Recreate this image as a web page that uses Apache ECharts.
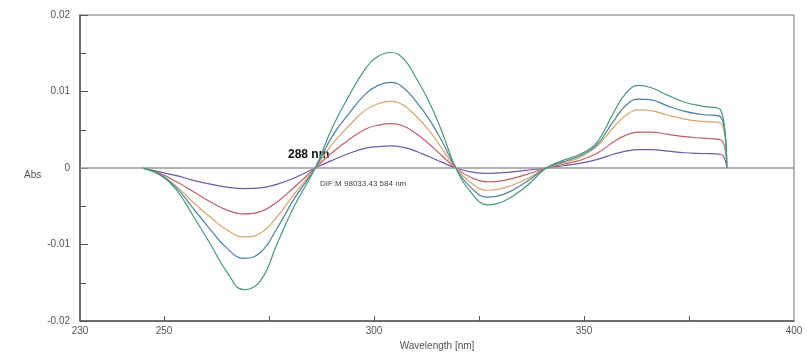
<!DOCTYPE html>
<html>
<head>
<meta charset="utf-8">
<script src="https://cdn.jsdelivr.net/npm/echarts@6/dist/echarts.min.js"></script>
<style>
  html, body { margin: 0; padding: 0; background: #fff; }
  #chart { width: 807px; height: 356px; }
</style>
</head>
<body>
<div id="chart"></div>
<script>
// wavelength grid (nm) shared by all derivative spectra
const wavelengths = [245, 249, 253, 257, 261, 265, 269, 273, 277, 281, 286, 290, 294, 298, 301, 304, 307, 310, 313, 316, 319.5, 323, 327, 331, 336, 341, 345, 349, 353, 357, 360, 363, 366, 370, 374, 378, 382.5, 384]

// first-derivative absorbance, one array per concentration (lowest -> highest)
const conc1 = [0, -0.0005, -0.0010, -0.0016, -0.0021, -0.0025, -0.0027, -0.0026, -0.0021, -0.0013, 0, 0.0010, 0.0019, 0.0026, 0.0028, 0.0029, 0.0027, 0.0022, 0.0015, 0.0008, 0, -0.0005, -0.0007, -0.0006, -0.0003, 0, 0.0003, 0.0006, 0.0011, 0.0018, 0.0022, 0.0024, 0.0024, 0.0022, 0.0020, 0.0019, 0.0018, 0]
const conc2 = [0, -0.0007, -0.0018, -0.0031, -0.0044, -0.0055, -0.0060, -0.0057, -0.0044, -0.0025, 0, 0.0020, 0.0037, 0.0051, 0.0056, 0.0058, 0.0055, 0.0045, 0.0032, 0.0017, 0, -0.0012, -0.0018, -0.0016, -0.0009, 0, 0.0005, 0.0010, 0.0019, 0.0034, 0.0043, 0.0047, 0.0047, 0.0044, 0.0041, 0.0039, 0.0037, 0]
const conc3 = [0, -0.0008, -0.0024, -0.0045, -0.0064, -0.0081, -0.0090, -0.0085, -0.0063, -0.0034, 0, 0.0031, 0.0055, 0.0076, 0.0084, 0.0087, 0.0082, 0.0068, 0.0050, 0.0027, 0, -0.0019, -0.0029, -0.0026, -0.0015, 0, 0.0007, 0.0014, 0.0028, 0.0053, 0.0069, 0.0076, 0.0075, 0.0069, 0.0064, 0.0061, 0.0059, 0]
const conc4 = [0, -0.0008, -0.0026, -0.0053, -0.0080, -0.0105, -0.0118, -0.0110, -0.0078, -0.0040, 0, 0.0041, 0.0071, 0.0097, 0.0108, 0.0112, 0.0105, 0.0087, 0.0065, 0.0037, 0, -0.0025, -0.0038, -0.0034, -0.0019, 0, 0.0008, 0.0016, 0.0030, 0.0061, 0.0082, 0.0090, 0.0089, 0.0081, 0.0074, 0.0070, 0.0067, 0]
const conc5 = [0, -0.0009, -0.0029, -0.0063, -0.0099, -0.0136, -0.0159, -0.0147, -0.0098, -0.0050, 0, 0.0052, 0.0094, 0.0130, 0.0146, 0.0151, 0.0143, 0.0118, 0.0088, 0.0050, 0, -0.0031, -0.0048, -0.0043, -0.0025, 0, 0.0010, 0.0018, 0.0033, 0.0072, 0.0098, 0.0108, 0.0105, 0.0095, 0.0086, 0.0081, 0.0076, 0]

const xLabels = [230, 250, 300, 350, 400]
const xTicks = [250, 275, 300, 325, 350, 375]

const spectra = [conc1, conc2, conc3, conc4, conc5]
const colors = ["#6b5ca5", "#c0606e", "#d9a56e", "#4f7fa0", "#4a9a78"]

const chart = echarts.init(document.getElementById("chart"))

const axisGrey = "#555"
const labelStyle = { color: "#555", fontSize: 10, fontFamily: "Liberation Sans" }

chart.setOption({
  animation: false,
  grid: { left: 80, right: 13, top: 15, bottom: 28, show: true, borderColor: "#777", borderWidth: 1 },
  xAxis: {
    type: "value",
    min: 230,
    max: 400,
    name: "Wavelength [nm]",
    nameLocation: "middle",
    nameGap: 19,
    nameTextStyle: labelStyle,
    axisLine: { onZero: false, lineStyle: { color: axisGrey, width: 1.5 } },
    axisTick: { inside: true, length: 5, customValues: xTicks, lineStyle: { color: axisGrey } },
    axisLabel: { customValues: xLabels, margin: 5, ...labelStyle },
    splitLine: { show: false },
  },
  yAxis: {
    type: "value",
    min: -0.02,
    max: 0.02,
    interval: 0.01,
    axisLine: { show: true, lineStyle: { color: axisGrey, width: 1.5 } },
    axisTick: { inside: true, length: 8, lineStyle: { color: axisGrey } },
    minorTick: { show: true, splitNumber: 2, length: 6, lineStyle: { color: axisGrey } },
    axisLabel: { margin: 10, ...labelStyle },
    splitLine: { show: false },
  },
  graphic: [
    { type: "text", left: 24, top: 170, style: { text: "Abs", fill: "#555", font: "10px Liberation Sans" } },
    { type: "text", left: 288, top: 149, style: { text: "288 nm", fill: "#111", font: "bold 12px Liberation Sans" } },
    { type: "text", left: 320, top: 180, style: { text: "DIF:M 98033.43 584 nm", fill: "#444", font: "8px Liberation Sans" } },
  ],
  series: spectra.map((vals, i) => ({
    type: "line",
    data: wavelengths.map((w, j) => [w, vals[j]]),
    smooth: 0.45,
    showSymbol: false,
    lineStyle: { color: colors[i], width: 1.2 },
    z: 3 + i,
    markLine: i === 0 ? {
      silent: true,
      symbol: "none",
      label: { show: false },
      lineStyle: { color: "#999", width: 1.5, type: "solid" },
      data: [{ yAxis: 0 }],
    } : undefined,
  })),
})
</script>
</body>
</html>
